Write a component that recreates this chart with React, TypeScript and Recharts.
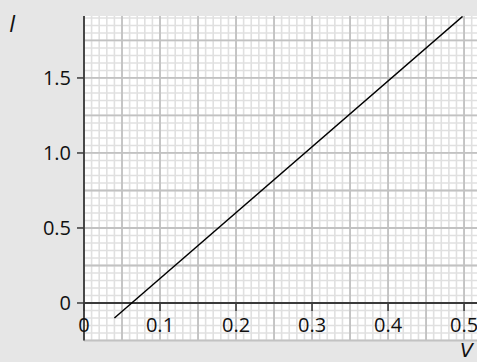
import React from 'react';
import {
  ComposedChart,
  Line,
  XAxis,
  YAxis,
  ReferenceLine,
  ReferenceDot,
  ReferenceArea,
} from 'recharts';

// ---- data ----
const xTickValues = [0, 0.1, 0.2, 0.3, 0.4, 0.5];
const xTickLabels = ['0', '0.1', '0.2', '0.3', '0.4', '0.5'];
const yTickValues = [0, 0.5, 1.0, 1.5];
const yTickLabels = ['0', '0.5', '1.0', '1.5'];
const lineV = [0.04, 0.498];
const lineI = [-0.1, 1.91];
const xDomain = [0, 0.517];
const yDomain = [-0.25, 1.913];
const xMinorStep = 0.01;
const xMajorStep = 0.05;
const yMinorStep = 0.05;
const yMajorStep = 0.25;

const gridValues = (lo: number, hi: number, step: number) => {
  const out: number[] = [];
  const k0 = Math.ceil(lo / step - 1e-9);
  const k1 = Math.floor(hi / step + 1e-9);
  for (let k = k0; k <= k1; k++) out.push(+(k * step).toFixed(4));
  return out;
};

const xMinor = gridValues(xDomain[0], xDomain[1], xMinorStep);
const xMajor = gridValues(xDomain[0], xDomain[1], xMajorStep);
const yMinor = gridValues(yDomain[0], yDomain[1], yMinorStep);
const yMajor = gridValues(yDomain[0], yDomain[1], yMajorStep);

const lineData = lineV.map((v, i) => ({ v, i: lineI[i] }));

const FONT = "'Open Sans', 'DejaVu Sans', sans-serif";
const BG = '#e6e6e6';
const MINOR = '#e0e0e0';
const MAJOR = '#c2c2c2';
const AXIS = '#3a3a3a';

const makeXTick = (label: string) => (props: any) => (
  <g>
    <line
      x1={props.cx}
      y1={props.cy}
      x2={props.cx}
      y2={props.cy + 8}
      stroke={AXIS}
      strokeWidth={1.5}
    />
    <text
      x={props.cx}
      y={props.cy + 29}
      textAnchor="middle"
      fontSize={20}
      fontFamily={FONT}
      fill="#111"
    >
      {label}
    </text>
  </g>
);

export default function App() {
  return (
    <div
      style={{
        position: 'absolute',
        left: 0,
        top: 0,
        width: 477,
        height: 362,
        overflow: 'hidden',
        background: BG,
      }}
    >
      <ComposedChart
        width={477}
        height={362}
        data={lineData}
        margin={{ top: 16, right: 0, bottom: 21.5, left: 24 }}
      >
        <XAxis
          dataKey="v"
          type="number"
          domain={xDomain}
          allowDataOverflow
          hide
        />
        <YAxis
          type="number"
          domain={yDomain}
          allowDataOverflow
          width={60}
          ticks={yTickValues}
          tickFormatter={(v: number) => yTickLabels[yTickValues.indexOf(v)] ?? String(v)}
          tick={{ fontSize: 20, fill: '#111', fontFamily: FONT }}
          tickSize={7}
          tickMargin={6}
          axisLine={{ stroke: AXIS, strokeWidth: 1.8 }}
          tickLine={{ stroke: AXIS, strokeWidth: 1.5 }}
        />
        <ReferenceArea
          x1={xDomain[0]}
          x2={xDomain[1]}
          y1={yDomain[0]}
          y2={yDomain[1]}
          fill="#ffffff"
          fillOpacity={1}
          stroke="none"
        />
        {xMinor.map((v) => (
          <ReferenceLine key={'xm' + v} x={v} stroke={MINOR} strokeWidth={1.6} />
        ))}
        {yMinor.map((v) => (
          <ReferenceLine key={'ym' + v} y={v} stroke={MINOR} strokeWidth={1.6} />
        ))}
        {xMajor.map((v) => (
          <ReferenceLine key={'xM' + v} x={v} stroke={MAJOR} strokeWidth={1.8} />
        ))}
        {yMajor.map((v) => (
          <ReferenceLine key={'yM' + v} y={v} stroke={MAJOR} strokeWidth={1.8} />
        ))}
        <ReferenceLine y={0} stroke={AXIS} strokeWidth={1.8} />
        {xTickValues.map((v, k) => (
          <ReferenceDot
            key={'xt' + v}
            x={v}
            y={0}
            r={0}
            shape={makeXTick(xTickLabels[k])}
          />
        ))}
        <Line
          dataKey="i"
          type="linear"
          stroke="#000"
          strokeWidth={1.5}
          dot={false}
          isAnimationActive={false}
        />
      </ComposedChart>
      <svg
        width={477}
        height={362}
        style={{ position: 'absolute', left: 0, top: 0, pointerEvents: 'none' }}
      >
        <text x={9} y={32} fontSize={23} fontStyle="italic" fontFamily={FONT} fill="#111">
          I
        </text>
        <text
          x={460}
          y={357}
          fontSize={19}
          fontStyle="italic"
          fontFamily="'DejaVu Sans', sans-serif"
          fill="#111"
        >
          V
        </text>
      </svg>
    </div>
  );
}
